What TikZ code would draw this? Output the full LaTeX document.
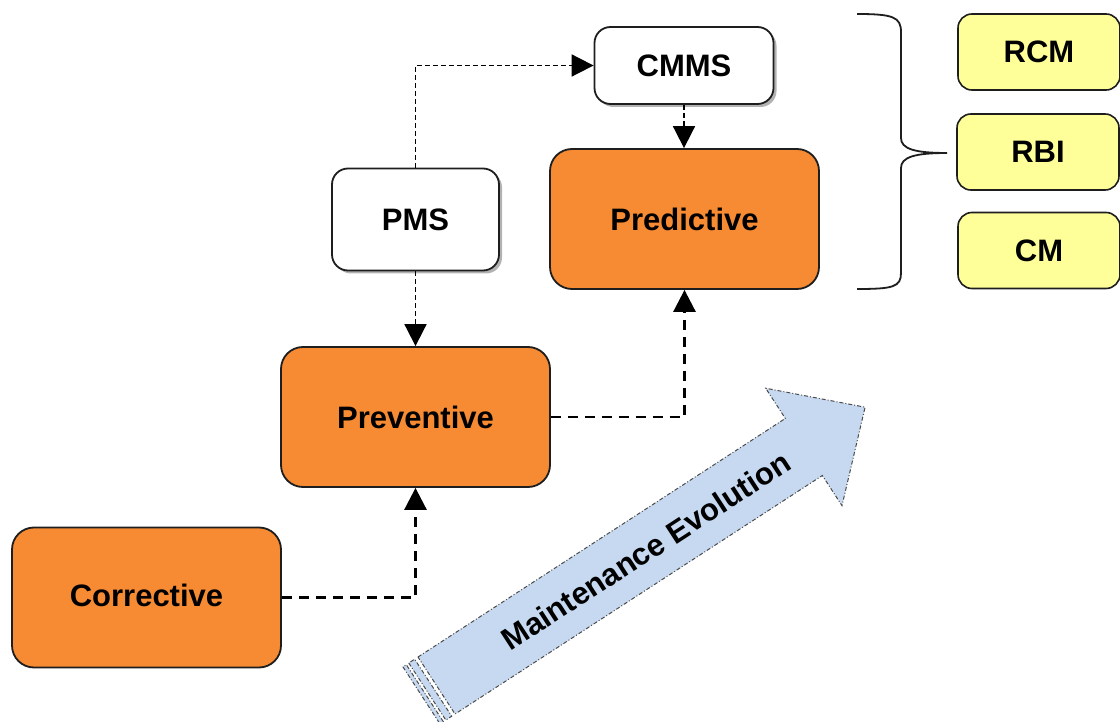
\documentclass[tikz,border=0pt]{standalone}
\usepackage{fontspec}
\setmainfont{Liberation Sans}
\usetikzlibrary{arrows.meta,shadows,calc}
\definecolor{orangebox}{RGB}{246,139,51}
\definecolor{yellowbox}{RGB}{255,255,153}
\definecolor{bluearrow}{RGB}{198,217,240}
\definecolor{edgegray}{RGB}{30,30,30}
\begin{document}
\begin{tikzpicture}[x=1pt,y=-1pt,
  lbl/.style={font=\fontsize{31}{35}\selectfont\bfseries, text=black},
  bigbox/.style={lbl, draw=edgegray, line width=1.8pt, fill=orangebox, rounded corners=22pt,
    minimum width=269pt, minimum height=140pt, inner sep=0pt},
  whitebox/.style={lbl, draw=edgegray, line width=1.8pt, fill=white, rounded corners=16pt,
    inner sep=0pt, drop shadow={shadow xshift=3pt, shadow yshift=-3pt, opacity=0.3, fill=black}},
  yelbox/.style={lbl, draw=edgegray, line width=1.6pt, fill=yellowbox, rounded corners=14pt,
    minimum width=162pt, minimum height=76pt, inner sep=0pt},
  mainlink/.style={draw=black, line width=2.8pt, dash pattern=on 10pt off 7pt,
    -{Triangle[width=22pt,length=22pt]}},
  sublink/.style={draw=black, line width=1.8pt, dash pattern=on 5pt off 3pt,
    -{Triangle[width=22pt,length=22pt]}},
  evoborder/.style={draw=edgegray!80, line width=1pt, dash pattern=on 4pt off 2pt on 1pt off 2pt},
]
\useasboundingbox (0,0) rectangle (1120,722);
\fill[white] (0,0) rectangle (1120,722);

% big evolution arrow
\begin{scope}[shift={(418,657)}, rotate=33]
  \path[fill=bluearrow, evoborder]
    (0,0) -- (438,0) -- (438,-36) -- (511,34) -- (438,104) -- (438,68) -- (0,68) -- cycle;
  \path[fill=bluearrow, evoborder] (-18,0) rectangle (-14,68);
  \path[fill=bluearrow, evoborder] (-11,0) rectangle (-4,68);
  \node[lbl, transform shape] (evo) at (249,35) {Maintenance Evolution};
\end{scope}

% main boxes
\node[bigbox] (corr) at (146.5,597.5) {\raisebox{5pt}{Corrective}};
\node[bigbox] (prev) at (415.5,417) {Preventive};
\node[bigbox] (pred) at (684.5,219) {Predictive};

\node[whitebox, minimum width=167pt, minimum height=102pt] (pms) at (415.5,219.5) {PMS};
\node[whitebox, minimum width=179pt, minimum height=77pt] (cmms) at (684,65.5) {CMMS};

\node[yelbox] (rcm) at (1039,52) {RCM};
\node[yelbox] (rbi) at (1038,152) {RBI};
\node[yelbox] (cm) at (1039,250.5) {CM};

% brace
\draw[edgegray, line width=1.8pt]
  (857,14) .. controls (893,14) and (901,17) .. (901,32) -- (901,138)
  .. controls (901,149) and (915,153) .. (947,153)
  .. controls (915,153) and (901,157) .. (901,168) -- (901,273)
  .. controls (901,287) and (893,289) .. (857,289);

% connectors
\draw[mainlink] (corr.east) -| (prev.south);
\draw[mainlink] (prev.east) -| (pred.south);
\draw[sublink] (pms.south) -- (pms.south |- prev.north);
\draw[sublink] (pms.north) |- (cmms.west);
\draw[sublink] (cmms.south) -- (cmms.south |- pred.north);
\end{tikzpicture}
\end{document}
